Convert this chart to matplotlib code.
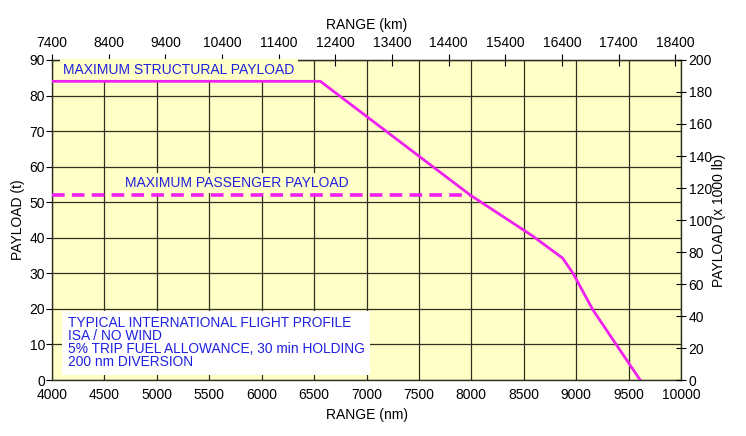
import matplotlib.pyplot as plt
import numpy as np

plt.rcParams['font.family'] = ['Liberation Sans', 'DejaVu Sans']

# ---- data ----
range_nm = [4000, 6560, 7990, 8275, 8580, 8870, 8970, 9160, 9610]
payload_t = [84, 84, 52, 46.5, 40.6, 34.3, 30.0, 19.7, 0]

pax_range = [4000, 7990]
pax_payload = [52, 52]

nm_ticks = list(range(4000, 10001, 500))
t_ticks = list(range(0, 91, 10))
km_ticks = list(range(7400, 18401, 1000))
lb_ticks = list(range(0, 201, 20))

info_lines = ["TYPICAL INTERNATIONAL FLIGHT PROFILE",
              "ISA / NO WIND",
              "5% TRIP FUEL ALLOWANCE, 30 min HOLDING",
              "200 nm DIVERSION"]

bg = '#FFFFC8'
blue = '#2020E0'
magenta = '#F020F0'

fig = plt.figure(figsize=(7.46, 4.36), dpi=100)
ax = fig.add_axes([0.0697, 0.1284, 0.8432, 0.734])
ax.set_facecolor(bg)

ax.set_xlim(4000, 10000)
ax.set_ylim(0, 90)
ax.set_xticks(nm_ticks)
ax.set_yticks(t_ticks)
ax.grid(True, color='#303020', linewidth=0.9)
ax.set_axisbelow(True)
ax.tick_params(axis='x', length=0, labelsize=10, pad=6)
ax.tick_params(axis='y', length=4, labelsize=10, pad=1, direction='out')
for s in ax.spines.values():
    s.set_color('#303020')
    s.set_linewidth(1.0)

ax.set_xlabel("RANGE (nm)", fontsize=10, loc='center', labelpad=4)
ax.set_ylabel("PAYLOAD (t)", fontsize=10, labelpad=3)

# curves
ax.plot(range_nm, payload_t, color=magenta, linewidth=2.0, zorder=4)
ax.plot(pax_range, pax_payload, color=magenta, linewidth=2.6,
        dashes=(3.5, 2.0), zorder=4)

# labels
ax.text(4105, 87.2, "MAXIMUM STRUCTURAL PAYLOAD", color=blue, fontsize=10,
        va='center', ha='left', zorder=3,
        bbox=dict(facecolor=bg, edgecolor='none', pad=2.5))
ax.text(4697, 55.4, "MAXIMUM PASSENGER PAYLOAD", color=blue, fontsize=10,
        va='center', ha='left', zorder=3,
        bbox=dict(facecolor=bg, edgecolor='none', pad=2.5))
ax.text(4150, 18.0, "\n".join(info_lines), color=blue, fontsize=9.9,
        va='top', ha='left', linespacing=0.92, zorder=3,
        bbox=dict(facecolor='white', edgecolor='none', pad=4))

# top km axis
top = ax.secondary_xaxis('top', functions=(lambda x: x * 1.85, lambda x: x / 1.85))
top.set_xticks(km_ticks)
top.tick_params(length=8, direction='inout', labelsize=10, pad=3)
top.set_xlabel("RANGE (km)", fontsize=10, labelpad=5)

# right lb axis
rax = ax.twinx()
rax.set_ylim(0, 200)
rax.set_yticks(lb_ticks)
rax.tick_params(length=7, direction='inout', labelsize=10, pad=2)
rax.set_ylabel("PAYLOAD (x 1000 lb)", fontsize=10, labelpad=0)
for s in rax.spines.values():
    s.set_visible(False)

fig.savefig("out.png", dpi=100)
